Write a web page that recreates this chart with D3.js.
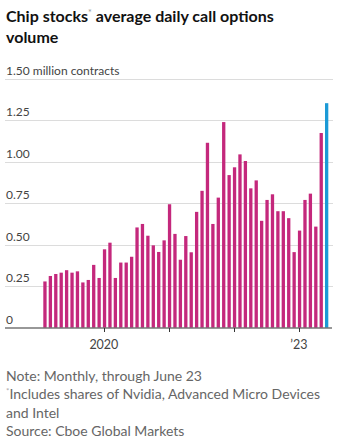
<!DOCTYPE html>
<html>
<head>
<meta charset="utf-8">
<script src="https://cdn.jsdelivr.net/npm/d3@7"></script>
<style>
  body { margin: 0; background: #fff; }
  text { font-family: Lato, "Noto Sans", sans-serif; }
</style>
</head>
<body>
<div id="chart"></div>
<script>
// monthly averages, millions of contracts
var months = [
  "2019-02","2019-03","2019-04","2019-05","2019-06","2019-07","2019-08","2019-09","2019-10","2019-11","2019-12",
  "2020-01","2020-02","2020-03","2020-04","2020-05","2020-06","2020-07","2020-08","2020-09","2020-10","2020-11","2020-12",
  "2021-01","2021-02","2021-03","2021-04","2021-05","2021-06","2021-07","2021-08","2021-09","2021-10","2021-11","2021-12",
  "2022-01","2022-02","2022-03","2022-04","2022-05","2022-06","2022-07","2022-08","2022-09","2022-10","2022-11","2022-12",
  "2023-01","2023-02","2023-03","2023-04","2023-05","2023-06"
];
var volume = [
  0.278, 0.311, 0.323, 0.331, 0.346, 0.331, 0.339, 0.272, 0.287, 0.378, 0.299,
  0.472, 0.512, 0.299, 0.392, 0.392, 0.427, 0.604, 0.625, 0.554, 0.496, 0.456, 0.526,
  0.744, 0.565, 0.409, 0.552, 0.454, 0.698, 0.825, 1.115, 0.625, 0.784, 1.240, 0.920,
  0.967, 1.045, 1.005, 0.840, 0.888, 0.644, 0.770, 0.804, 0.702, 0.702, 0.660, 0.455,
  0.585, 0.770, 0.808, 0.609, 1.174, 1.354
];
var latestMonth = "2023-06";

var yTicks = [0, 0.25, 0.5, 0.75, 1.0, 1.25, 1.5];
var yTickLabels = ["0", "0.25", "0.50", "0.75", "1.00", "1.25", "1.50 million contracts"];
var xTicks = ["2020-01", "2021-01", "2022-01", "2023-01"];
var xTickLabels = ["2020", "", "", "\u201923"];

var notes = [
  ["", "Note: Monthly, through June 23"],
  ["*", "Includes shares of Nvidia, Advanced Micro Devices"],
  ["", "and Intel"],
  ["", "Source: Cboe Global Markets"]
];

var width = 345, height = 448;

var svg = d3.select("#chart")
  .append("svg")
    .attr("width", width)
    .attr("height", height);

// title, with superscript asterisk
var title = svg.append("text")
    .attr("x", 6)
    .attr("y", 22)
    .attr("font-size", 16)
    .attr("font-weight", 700)
    .attr("fill", "#111");
title.append("tspan").text("Chip stocks");
title.append("tspan").text("*")
    .attr("font-size", 9).attr("font-weight", 400).attr("fill", "#999")
    .attr("dy", -6);
title.append("tspan").text(" average daily call options").attr("dy", 6);
svg.append("text")
    .attr("x", 6)
    .attr("y", 43)
    .attr("font-size", 16)
    .attr("font-weight", 700)
    .attr("fill", "#111")
    .text("volume");

var x = d3.scaleBand()
    .domain(months)
    .range([43.3, 328.3])
    .paddingInner(0.39)
    .paddingOuter(0);

var y = d3.scaleLinear()
    .domain([0, 1.5])
    .range([327.5, 79]);

// gridlines and y labels
var grid = svg.append("g");
grid.selectAll("line")
  .data(yTicks.slice(1))
  .enter()
  .append("line")
    .attr("x1", 5)
    .attr("x2", 333)
    .attr("y1", function (d) { return Math.round(y(d)) + 0.5; })
    .attr("y2", function (d) { return Math.round(y(d)) + 0.5; })
    .attr("stroke", "#dcdcdc")
    .attr("stroke-width", 1);

grid.selectAll("text")
  .data(yTicks)
  .enter()
  .append("text")
    .attr("x", 6)
    .attr("y", function (d) { return y(d) - 4; })
    .attr("font-size", 12)
    .attr("fill", "#444")
    .text(function (d, i) { return yTickLabels[i]; });

// bars
svg.append("g")
  .selectAll("rect")
  .data(months)
  .enter()
  .append("rect")
    .attr("x", function (d) { return x(d); })
    .attr("width", x.bandwidth())
    .attr("y", function (d, i) { return y(volume[i]); })
    .attr("height", function (d, i) { return y(0) - y(volume[i]); })
    .attr("fill", function (d) { return d === latestMonth ? "#1c9ad6" : "#c4287c"; });

// baseline and year ticks
svg.append("line")
    .attr("x1", 5)
    .attr("x2", 332)
    .attr("y1", 328)
    .attr("y2", 328)
    .attr("stroke", "#333")
    .attr("stroke-width", 1.2);

var xt = svg.append("g");
xt.selectAll("line")
  .data(xTicks)
  .enter()
  .append("line")
    .attr("x1", function (d) { return Math.round(x(d) + 1) + 0.5; })
    .attr("x2", function (d) { return Math.round(x(d) + 1) + 0.5; })
    .attr("y1", 328)
    .attr("y2", 332)
    .attr("stroke", "#333");

xt.selectAll("text")
  .data(xTicks)
  .enter()
  .append("text")
    .attr("x", function (d) { return x(d) + 1; })
    .attr("y", 349)
    .attr("text-anchor", "middle")
    .attr("font-size", 12.5)
    .attr("fill", "#444")
    .text(function (d, i) { return xTickLabels[i]; });

// notes and source
var noteText = svg.append("g")
  .selectAll("text")
  .data(notes)
  .enter()
  .append("text")
    .attr("x", 6)
    .attr("y", function (d, i) { return 380.5 + i * 18.5; })
    .attr("font-size", 14)
    .attr("fill", "#666");
noteText.filter(function (d) { return d[0]; })
  .append("tspan")
    .attr("font-size", 8)
    .attr("fill", "#aaa")
    .attr("dy", -5)
    .text(function (d) { return d[0]; });
noteText.append("tspan")
    .attr("dy", function (d) { return d[0] ? 5 : 0; })
    .text(function (d) { return d[1]; });
</script>
</body>
</html>
